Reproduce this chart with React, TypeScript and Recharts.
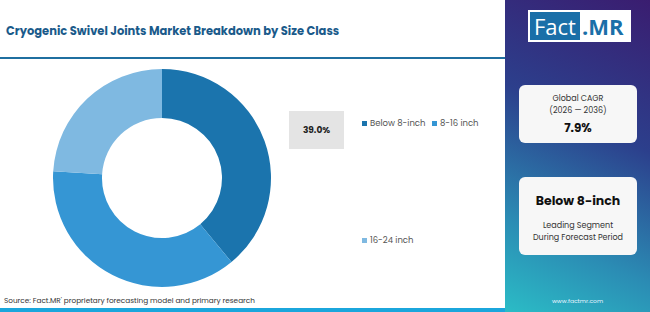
import React from 'react';
import { PieChart, Pie, Cell, Legend } from 'recharts';

const sizeClasses = ['Below 8-inch', '8-16 inch', '16-24 inch'];
const shares = [39.0, 37.0, 24.0];
const sliceColors = ['#1b74ad', '#3596d4', '#7fb9e1'];

const data = sizeClasses.map((name, i) => ({ name, value: shares[i] }));

const FONT = "Poppins, 'Noto Sans', 'Open Sans', sans-serif";

// legend items sit in a wide flow box; the third one wraps far down
const legendSpots = [
  { left: 0, top: 0 },
  { left: 70, top: 0 },
  { left: 0, top: 117 },
];

function SizeLegend(props: any) {
  const items = [...(props.payload || [])].sort(
    (a: any, b: any) => sizeClasses.indexOf(a.value) - sizeClasses.indexOf(b.value)
  );
  return (
    <div style={{ position: 'relative', width: 150, height: 130 }}>
      {items.map((item: any, i: number) => (
        <div
          key={item.value}
          style={{
            position: 'absolute',
            left: legendSpots[i].left,
            top: legendSpots[i].top,
            display: 'flex',
            alignItems: 'center',
            fontSize: 8.5,
            color: '#555',
            fontFamily: FONT,
            whiteSpace: 'nowrap',
          }}
        >
          <span style={{ width: 5, height: 5, background: item.color, marginRight: 3, display: 'inline-block' }} />
          {item.value}
        </div>
      ))}
    </div>
  );
}

export default function App() {
  return (
    <div style={{ position: 'relative', width: 650, height: 312, background: '#fff', overflow: 'hidden', fontFamily: FONT }}>
      <style>{'body{margin:0}'}</style>

      {/* header */}
      <div style={{ position: 'absolute', left: 0, top: 0, width: 505, height: 57, borderBottom: '2px solid #1f6fa0' }}>
        <div style={{ position: 'absolute', left: 6, top: 23, fontSize: 11.5, fontWeight: 700, color: '#1a5a8a' }}>
          Cryogenic Swivel Joints Market Breakdown by Size Class
        </div>
      </div>

      {/* chart */}
      <div style={{ position: 'absolute', left: 0, top: 58 }}>
        <PieChart width={505} height={250} margin={{ top: 0, right: 0, bottom: 0, left: 0 }}>
          <Pie
            data={data}
            dataKey="value"
            nameKey="name"
            cx={162}
            cy={120}
            innerRadius={60}
            outerRadius={109}
            startAngle={90}
            endAngle={-270}
            stroke="none"
            isAnimationActive={false}
          >
            {data.map((d, i) => (
              <Cell key={d.name} fill={sliceColors[i]} />
            ))}
          </Pie>
          <Legend
            content={<SizeLegend />}
            wrapperStyle={{ position: 'absolute', left: 362, top: 59, width: 150 }}
          />
        </PieChart>
      </div>

      {/* value box */}
      <div
        style={{
          position: 'absolute', left: 289, top: 111, width: 55, height: 38, background: '#e4e4e4',
          display: 'flex', alignItems: 'center', justifyContent: 'center', fontSize: 9, fontWeight: 700, color: '#222',
        }}
      >
        {shares[0].toFixed(1)}%
      </div>

      {/* source */}
      <div style={{ position: 'absolute', left: 4, top: 295, fontSize: 7.3, color: '#333' }}>
        Source: Fact.MR' proprietary forecasting model and primary research
      </div>
      <div style={{ position: 'absolute', left: 0, top: 308, width: 505, height: 4, background: '#1ba6dc' }} />

      {/* right panel */}
      <div
        style={{
          position: 'absolute', left: 505, top: 0, width: 145, height: 312,
          background: 'linear-gradient(205deg, #3a1d70 0%, #2c3f8c 40%, #2b8cb4 75%, #2bbcc6 100%)',
        }}
      >
        <div style={{ position: 'absolute', left: 23, top: 10, width: 103, height: 32, background: '#fff', display: 'flex', alignItems: 'stretch', overflow: 'hidden' }}>
          <div style={{ margin: 2, background: '#1a6fa8', color: '#fff', fontSize: 22, lineHeight: '28px', padding: '0 4px', fontFamily: "'Open Sans', sans-serif" }}>Fact</div>
          <div style={{ color: '#1a6fa8', fontSize: 22, fontWeight: 700, lineHeight: '32px', fontFamily: "'Open Sans', sans-serif" }}>.MR</div>
        </div>

        <div style={{ position: 'absolute', left: 14, top: 85, width: 118, height: 58, background: '#f7f7f7', borderRadius: 6, textAlign: 'center', color: '#333' }}>
          <div style={{ fontSize: 8, marginTop: 8, lineHeight: '12px' }}>Global CAGR</div>
          <div style={{ fontSize: 8, lineHeight: '12px' }}>(2026 — 2036)</div>
          <div style={{ fontSize: 12, fontWeight: 700, color: '#111', marginTop: 2 }}>7.9%</div>
        </div>

        <div style={{ position: 'absolute', left: 14, top: 177, width: 118, height: 78, background: '#f7f7f7', borderRadius: 6, textAlign: 'center', color: '#333' }}>
          <div style={{ fontSize: 12.5, fontWeight: 700, color: '#111', marginTop: 15 }}>{sizeClasses[0]}</div>
          <div style={{ fontSize: 8, marginTop: 10, lineHeight: '12px' }}>Leading Segment</div>
          <div style={{ fontSize: 8, lineHeight: '12px' }}>During Forecast Period</div>
        </div>

        <div style={{ position: 'absolute', left: 0, top: 297, width: 145, textAlign: 'center', fontSize: 6, color: '#e8f4ff' }}>
          www.factmr.com
        </div>
      </div>
    </div>
  );
}
